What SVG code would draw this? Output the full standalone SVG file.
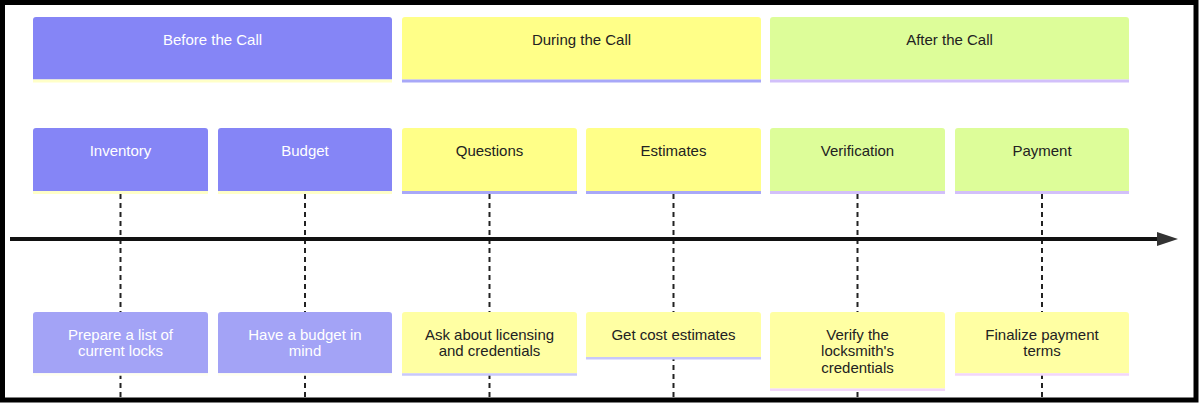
<svg xmlns="http://www.w3.org/2000/svg" width="1200" height="403" viewBox="0 0 1200 403">
<style>
text{font-family:"Liberation Sans",Arial,sans-serif;font-size:15px;text-anchor:middle}
.w{fill:#ffffff}
.d{fill:#222222}
.p{fill:#8585f6}
.pl{fill:#a3a3f6}
.y{fill:#ffff88}
.yl{fill:#ffffa3}
.g{fill:#ddfd99}
.ln{stroke-width:3;fill:none}
.dash{stroke:#222;stroke-width:2;stroke-dasharray:5,4;fill:none}
</style>
<defs>
<marker id="arr" viewBox="0 0 21 14" markerWidth="21" markerHeight="14" refX="0" refY="7" markerUnits="userSpaceOnUse" orient="auto">
<path d="M0,0 L21,7 L0,14 z" fill="#333"/>
</marker>
</defs>
<rect x="0" y="0" width="1200" height="403" fill="#fff"/>
<rect x="2.5" y="2.5" width="1193.5" height="397.5" fill="#fff" stroke="#000" stroke-width="5"/>
<g id="connectors">
<line class="dash" x1="120.5" y1="194" x2="120.5" y2="397"/>
<line class="dash" x1="305" y1="194" x2="305" y2="397"/>
<line class="dash" x1="489.5" y1="194" x2="489.5" y2="397"/>
<line class="dash" x1="673.5" y1="194" x2="673.5" y2="397"/>
<line class="dash" x1="857.5" y1="194" x2="857.5" y2="397"/>
<line class="dash" x1="1042" y1="194" x2="1042" y2="397"/>
<line x1="10" y1="239" x2="1157" y2="239" stroke="#111" stroke-width="4" marker-end="url(#arr)"/>
</g>
<g id="sec-before">
<path class="p" d="M33,79.5 V20 Q33,17 36,17 H389 Q392,17 392,20 V79.5 Z"/>
<line class="ln" x1="33" y1="81" x2="392" y2="81" stroke="#ffffc8"/>
<text class="w" x="212.5" y="44.5">Before the Call</text>
</g>
<g id="sec-during">
<path class="y" d="M402,79.5 V20 Q402,17 405,17 H758 Q761,17 761,20 V79.5 Z"/>
<line class="ln" x1="402" y1="81" x2="761" y2="81" stroke="#a8a8f8"/>
<text class="d" x="581.5" y="44.5">During the Call</text>
</g>
<g id="sec-after">
<path class="g" d="M770,79.5 V20 Q770,17 773,17 H1126 Q1129,17 1129,20 V79.5 Z"/>
<line class="ln" x1="770" y1="81" x2="1129" y2="81" stroke="#d2c0fa"/>
<text class="d" x="949.5" y="44.5">After the Call</text>
</g>
<g id="task-inventory">
<path class="p" d="M33,191 V131 Q33,128 36,128 H205 Q208,128 208,131 V191 Z"/>
<line class="ln" x1="33" y1="192.5" x2="208" y2="192.5" stroke="#ffffc8"/>
<text class="w" x="120.5" y="156">Inventory</text>
</g>
<g id="task-budget">
<path class="p" d="M218,191 V131 Q218,128 221,128 H389 Q392,128 392,131 V191 Z"/>
<line class="ln" x1="218" y1="192.5" x2="392" y2="192.5" stroke="#ffffc8"/>
<text class="w" x="305" y="156">Budget</text>
</g>
<g id="task-questions">
<path class="y" d="M402,191 V131 Q402,128 405,128 H574 Q577,128 577,131 V191 Z"/>
<line class="ln" x1="402" y1="192.5" x2="577" y2="192.5" stroke="#a8a8f8"/>
<text class="d" x="489.5" y="156">Questions</text>
</g>
<g id="task-estimates">
<path class="y" d="M586,191 V131 Q586,128 589,128 H758 Q761,128 761,131 V191 Z"/>
<line class="ln" x1="586" y1="192.5" x2="761" y2="192.5" stroke="#a8a8f8"/>
<text class="d" x="673.5" y="156">Estimates</text>
</g>
<g id="task-verification">
<path class="g" d="M770,191 V131 Q770,128 773,128 H942 Q945,128 945,131 V191 Z"/>
<line class="ln" x1="770" y1="192.5" x2="945" y2="192.5" stroke="#d2c0fa"/>
<text class="d" x="857.5" y="156">Verification</text>
</g>
<g id="task-payment">
<path class="g" d="M955,191 V131 Q955,128 958,128 H1126 Q1129,128 1129,131 V191 Z"/>
<line class="ln" x1="955" y1="192.5" x2="1129" y2="192.5" stroke="#d2c0fa"/>
<text class="d" x="1042" y="156">Payment</text>
</g>
<g id="event-inventory">
<path class="pl" d="M33,373.3 V315 Q33,312 36,312 H205 Q208,312 208,315 V373.3 Z"/>
<line x1="33" y1="374.5" x2="208" y2="374.5" stroke="#fffff0" stroke-width="2.5"/>
<text class="w" x="120.5" y="340">Prepare a list of</text>
<text class="w" x="120.5" y="356.3">current locks</text>
</g>
<g id="event-budget">
<path class="pl" d="M218,373.3 V315 Q218,312 221,312 H389 Q392,312 392,315 V373.3 Z"/>
<line x1="218" y1="374.5" x2="392" y2="374.5" stroke="#fffff0" stroke-width="2.5"/>
<text class="w" x="305" y="340">Have a budget in</text>
<text class="w" x="305" y="356.3">mind</text>
</g>
<g id="event-questions">
<path class="yl" d="M402,373.3 V315 Q402,312 405,312 H574 Q577,312 577,315 V373.3 Z"/>
<line x1="402" y1="374.5" x2="577" y2="374.5" stroke="#c8c8fa" stroke-width="2.5"/>
<text class="d" x="489.5" y="340">Ask about licensing</text>
<text class="d" x="489.5" y="356.3">and credentials</text>
</g>
<g id="event-estimates">
<path class="yl" d="M586,357 V315 Q586,312 589,312 H758 Q761,312 761,315 V357 Z"/>
<line x1="586" y1="358.3" x2="761" y2="358.3" stroke="#c8c8fa" stroke-width="2.5"/>
<text class="d" x="673.5" y="340">Get cost estimates</text>
</g>
<g id="event-verification">
<path class="yl" d="M770,388.6 V315 Q770,312 773,312 H942 Q945,312 945,315 V388.6 Z"/>
<line x1="770" y1="389.8" x2="945" y2="389.8" stroke="#f2d6fa" stroke-width="2.5"/>
<text class="d" x="857.5" y="340">Verify the</text>
<text class="d" x="857.5" y="356.3">locksmith's</text>
<text class="d" x="857.5" y="372.6">credentials</text>
</g>
<g id="event-payment">
<path class="yl" d="M955,373.3 V315 Q955,312 958,312 H1126 Q1129,312 1129,315 V373.3 Z"/>
<line x1="955" y1="374.5" x2="1129" y2="374.5" stroke="#f2d6fa" stroke-width="2.5"/>
<text class="d" x="1042" y="340">Finalize payment</text>
<text class="d" x="1042" y="356.3">terms</text>
</g>
</svg>
